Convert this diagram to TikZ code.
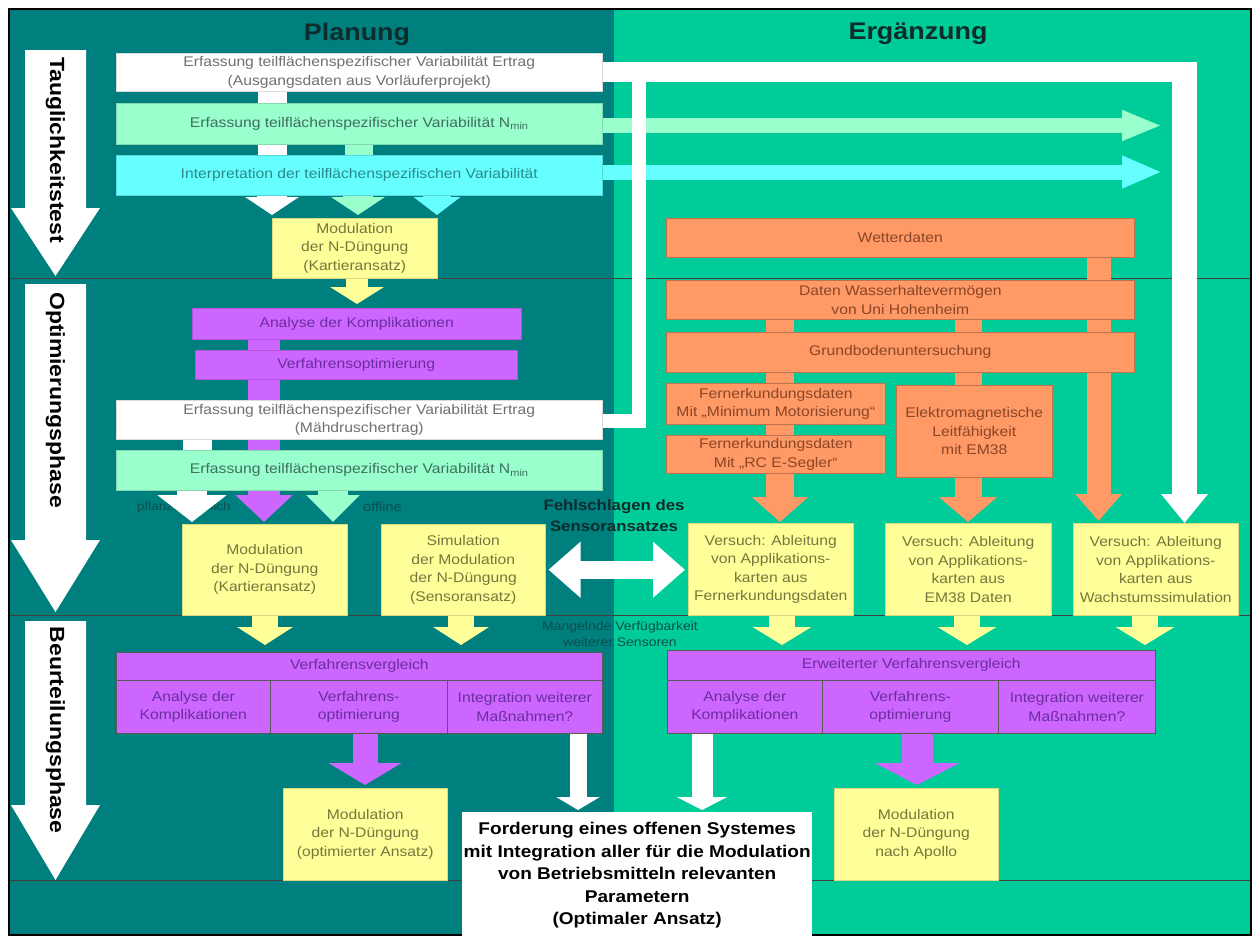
\documentclass[tikz,border=0pt]{standalone}
\usepackage{fontspec}
\setmainfont[FakeStretch=1.12]{Liberation Sans}
\usetikzlibrary{arrows.meta}
\pgfdeclarelayer{back}
\pgfdeclarelayer{mid}
\pgfsetlayers{back,mid,main}
\definecolor{bgteal}{HTML}{007F7F}
\definecolor{bggreen}{HTML}{00CC99}
\definecolor{cgreen}{HTML}{99FFCC}
\definecolor{ccyan}{HTML}{66FFFF}
\definecolor{cyellow}{HTML}{FFFF99}
\definecolor{cpurple}{HTML}{CC66FF}
\definecolor{corange}{HTML}{FF9966}
\definecolor{twhite}{HTML}{707070}
\definecolor{tgreen}{HTML}{3F6F5F}
\definecolor{tcyan}{HTML}{2A8A8A}
\definecolor{tyellow}{HTML}{76763E}
\definecolor{tpurple}{HTML}{6A2E9E}
\definecolor{torange}{HTML}{8A4626}
\definecolor{darktx}{HTML}{0E2C2C}
\definecolor{dimtx}{HTML}{0B4F4F}
\newcommand\bx[7]{\node[box,#6,minimum width={#4-#2},minimum height={#5-#3}] (#1) at (#2,#3) {#7};}
\begin{document}
\begin{tikzpicture}[x=1pt,y=-1pt,
  box/.style={anchor=north west,inner sep=0pt,align=center,font=\fontsize{14}{18.5}\selectfont},
  wbox/.style={fill=white,text=twhite,draw=black!15,line width=.5pt},
  gbox/.style={fill=cgreen,text=tgreen,draw=cgreen!85!black,line width=.5pt},
  cbox/.style={fill=ccyan,text=tcyan,draw=ccyan!85!black,line width=.5pt},
  ybox/.style={fill=cyellow,text=tyellow,draw=cyellow!85!black,line width=.5pt},
  pbox/.style={fill=cpurple,text=tpurple,draw=cpurple!85!black,line width=.5pt},
  pcell/.style={fill=cpurple,text=tpurple,draw=black!65,line width=.7pt},
  obox/.style={fill=corange,text=torange,draw=corange!75!black,line width=.6pt},
  mbox/.style={fill=white,text=black,font=\bfseries\fontsize{17}{22.5}\selectfont},
  blk/.style n args={4}{draw=#1,line width=#2,-{Triangle[width=#3,length=#4]}},
  divl/.style={draw=black!75,line width=1pt},
  phase/.style={font=\bfseries\fontsize{20.5}{24}\selectfont,rotate=-90,text=black,inner sep=0pt},
  head/.style={font=\bfseries\fontsize{24}{28}\selectfont,text=darktx},
]
\useasboundingbox (0,0) rectangle (1258,938);

% ---------------- boxes: Planung ----------------
\bx{A}{116}{53}{602}{91}{wbox}{Erfassung teilflächenspezifischer Variabilität Ertrag\\(Ausgangsdaten aus Vorläuferprojekt)}
\bx{B}{116}{103}{602}{144}{gbox}{Erfassung teilflächenspezifischer Variabilität N\textsubscript{min}}
\bx{C}{116}{155}{602}{195}{cbox}{Interpretation der teilflächenspezifischen Variabilität}
\bx{D}{272}{218}{437}{278}{ybox}{Modulation\\der N-Düngung\\(Kartieransatz)}
\bx{E}{192}{308}{521}{339}{pbox}{Analyse der Komplikationen}
\bx{F}{195}{350}{517}{379}{pbox}{Verfahrensoptimierung}
\bx{G}{116}{400}{602}{439}{wbox}{Erfassung teilflächenspezifischer Variabilität Ertrag\\(Mähdruschertrag)}
\bx{H}{116}{450}{602}{490}{gbox}{Erfassung teilflächenspezifischer Variabilität N\textsubscript{min}}
\bx{I}{182}{524}{347}{615}{ybox}{Modulation\\der N-Düngung\\(Kartieransatz)}
\bx{J}{381}{524}{545}{615}{ybox}{Simulation\\der Modulation\\der N-Düngung\\(Sensoransatz)}
\bx{KH}{116}{652}{602}{680}{pcell}{Verfahrensvergleich}
\bx{KC1}{116}{680}{270}{733}{pcell}{Analyse der\\Komplikationen}
\bx{KC2}{270}{680}{447}{733}{pcell}{Verfahrens-\\optimierung}
\bx{KC3}{447}{680}{602}{733}{pcell}{Integration weiterer\\Maßnahmen?}
\bx{L}{283}{788}{447}{880}{ybox}{Modulation\\der N-Düngung\\(optimierter Ansatz)}

% ---------------- boxes: Ergaenzung ----------------
\bx{W}{666}{218}{1134}{257}{obox}{Wetterdaten}
\bx{Dw}{666}{280}{1134}{319}{obox}{Daten Wasserhaltevermögen\\von Uni Hohenheim}
\bx{Gb}{666}{332}{1134}{372}{obox}{Grundbodenuntersuchung}
\bx{F1}{666}{383}{885}{424}{obox}{Fernerkundungsdaten\\Mit „Minimum Motorisierung“}
\bx{F2}{666}{435}{885}{473}{obox}{Fernerkundungsdaten\\Mit „RC E-Segler“}
\bx{EM}{896}{385}{1052}{477}{obox}{Elektromagnetische\\Leitfähigkeit\\mit EM38}
\bx{V1}{688}{523}{853}{615}{ybox}{Versuch: Ableitung\\von Applikations-\\karten aus\\Fernerkundungsdaten}
\bx{V2}{885}{523}{1051}{615}{ybox}{Versuch: Ableitung\\von Applikations-\\karten aus\\EM38 Daten}
\bx{V3}{1073}{523}{1238}{615}{ybox}{Versuch: Ableitung\\von Applikations-\\karten aus\\Wachstumssimulation}
\bx{RH}{667}{650}{1155}{680}{pcell}{Erweiterter Verfahrensvergleich}
\bx{RC1}{667}{680}{822}{733}{pcell}{Analyse der\\Komplikationen}
\bx{RC2}{822}{680}{998}{733}{pcell}{Verfahrens-\\optimierung}
\bx{RC3}{998}{680}{1155}{733}{pcell}{Integration weiterer\\Maßnahmen?}
\bx{AP}{834}{788}{998}{880}{ybox}{Modulation\\der N-Düngung\\nach Apollo}
\bx{M}{462}{812}{812}{938}{mbox}{Forderung eines offenen Systemes\\mit Integration aller für die Modulation\\von Betriebsmitteln relevanten\\Parametern\\(Optimaler Ansatz)}

% ---------------- background ----------------
\begin{pgfonlayer}{back}
\fill[white] (0,0) rectangle (1258,938);
\fill[bgteal] (10,10) rectangle (614,935);
\fill[bggreen] (614,10) rectangle (1251,935);
\draw[divl] (10,278) -- (1251,278);
\draw[divl] (10,615) -- (1251,615);
\draw[divl] (10,880) -- (1251,880);
\draw[black,line width=1.5pt] (9,9) rectangle (1251,935);
\fill[white] (25,50) -- (86,50) -- (86,208) -- (100,208) -- (55.5,276) -- (11,208) -- (25,208) -- cycle;
\fill[white] (25,284) -- (86,284) -- (86,540) -- (100,540) -- (55.5,612) -- (11,540) -- (25,540) -- cycle;
\fill[white] (25,621) -- (86,621) -- (86,805) -- (100,805) -- (55.5,880) -- (11,805) -- (25,805) -- cycle;
\end{pgfonlayer}

\node[phase] (P1) at (55.5,150) {Tauglichkeitstest};
\node[phase] (P2) at (55.5,400) {Optimierungsphase};
\node[phase] (P3) at (55.5,730) {Beurteilungsphase};
\node[head] (hPlan) at (357,34) {Planung};
\node[head] (hErg) at (918,34) {Ergänzung};

% ---------------- connectors under boxes ----------------
\begin{pgfonlayer}{mid}
\fill[white] (A.east |- 0,62) rectangle (1197,82);
\draw[blk={white}{25pt}{45pt}{29pt}] (1184.5,62) -- (1184.5,0 |- V3.north);
\draw[blk={corange}{24pt}{45pt}{27pt},shorten >=2pt] (1098.5,0 |- W.south) -- (1098.5,0 |- V3.north);
\draw[blk={corange}{28pt}{55pt}{25pt},shorten >=1pt] (780,0 |- Dw.south) -- (780,0 |- V1.north);
\draw[blk={corange}{27pt}{57pt}{25pt},shorten >=1pt] (968,0 |- Dw.south) -- (968,0 |- V2.north);
\fill[white] (258,0 |- A.south) rectangle (287,0 |- C.north);
\fill[cgreen] (345,0 |- B.south) rectangle (373,0 |- C.north);
\fill[cpurple] (248,0 |- E.south) rectangle (280,0 |- H.north);
\fill[white] (183,0 |- G.south) rectangle (212,0 |- H.north);
\coordinate (gEnd) at (1162,125.5);
\coordinate (cEnd) at (1162,172);
\draw[blk={cgreen}{15pt}{28pt}{40pt}] (B.east |- gEnd) -- (gEnd);
\draw[blk={ccyan}{15pt}{30pt}{40pt}] (C.east |- cEnd) -- (cEnd);
\draw[white,line width=14pt,line join=miter] (G.east |- 0,421) -- (638.5,421) -- (638.5,82);
\end{pgfonlayer}

% ---------------- small labels behind arrows ----------------
\node[font=\fontsize{12}{14}\selectfont,text=dimtx,anchor=west,inner sep=0pt] (pfl) at (137,507) {pflanzenbaulich};
\node[font=\fontsize{13}{15}\selectfont,text=dimtx,anchor=west,inner sep=0pt] (off) at (363,507) {offline};

% ---------------- arrows between boxes ----------------
\draw[blk={white}{30pt}{53pt}{18pt},shorten >=3pt] (272,0 |- C.south) -- (272,0 |- D.north);
\draw[blk={cgreen}{30pt}{53pt}{18pt},shorten >=3pt] (358,0 |- C.south) -- (358,0 |- D.north);
\draw[blk={ccyan}{28pt}{46pt}{18pt},shorten >=3pt] (437,0 |- C.south) -- (437,0 |- D.north);
\draw[blk={cyellow}{22pt}{53pt}{17pt},shorten >=4pt] (357,0 |- D.south) -- (357,0 |- E.north);
\draw[blk={white}{30pt}{68pt}{27pt},shorten >=2pt] (192,0 |- H.south) -- (192,0 |- I.north);
\draw[blk={cpurple}{32pt}{56pt}{27pt},shorten >=2pt] (264,0 |- H.south) -- (264,0 |- I.north);
\draw[blk={cgreen}{30pt}{52pt}{27pt},shorten >=2pt] (333,0 |- H.south) -- (333,0 |- I.north);
\draw[blk={cyellow}{26pt}{55pt}{18pt},shorten >=7pt] (265,0 |- I.south) -- (265,0 |- KH.north);
\draw[blk={cyellow}{26pt}{55pt}{18pt},shorten >=7pt] (461,0 |- J.south) -- (461,0 |- KH.north);
\draw[blk={cyellow}{26pt}{58pt}{18pt},shorten >=5pt] (782,0 |- V1.south) -- (782,0 |- RH.north);
\draw[blk={cyellow}{26pt}{58pt}{18pt},shorten >=5pt] (967,0 |- V2.south) -- (967,0 |- RH.north);
\draw[blk={cyellow}{26pt}{58pt}{18pt},shorten >=5pt] (1145,0 |- V3.south) -- (1145,0 |- RH.north);
\draw[white,line width=18pt,{Triangle[width=54pt,length=32pt]}-{Triangle[width=54pt,length=32pt]},shorten <=3pt,shorten >=3pt] (J.east) -- (J.east -| V1.west);
\draw[blk={cpurple}{25pt}{72pt}{22pt},shorten >=3pt] (365,0 |- KC2.south) -- (365,0 |- L.north);
\draw[blk={white}{17pt}{43pt}{13pt},shorten >=2pt] (578,0 |- KC3.south) -- (578,0 |- M.north);
\draw[blk={white}{21pt}{50pt}{13pt},shorten >=2pt] (702,0 |- RC1.south) -- (702,0 |- M.north);
\draw[blk={cpurple}{31pt}{84pt}{22pt},shorten >=3pt] (917,0 |- RC2.south) -- (917,0 |- AP.north);

% ---------------- free labels ----------------
\node[font=\bfseries\fontsize{15}{21}\selectfont,text=darktx,align=center] (fehl) at (614,516) {Fehlschlagen des\\Sensoransatzes};
\node[font=\fontsize{12.5}{16}\selectfont,text=dimtx,align=center] (mang) at (620,634) {Mangelnde Verfügbarkeit\\weiterer Sensoren};
\end{tikzpicture}
\end{document}
